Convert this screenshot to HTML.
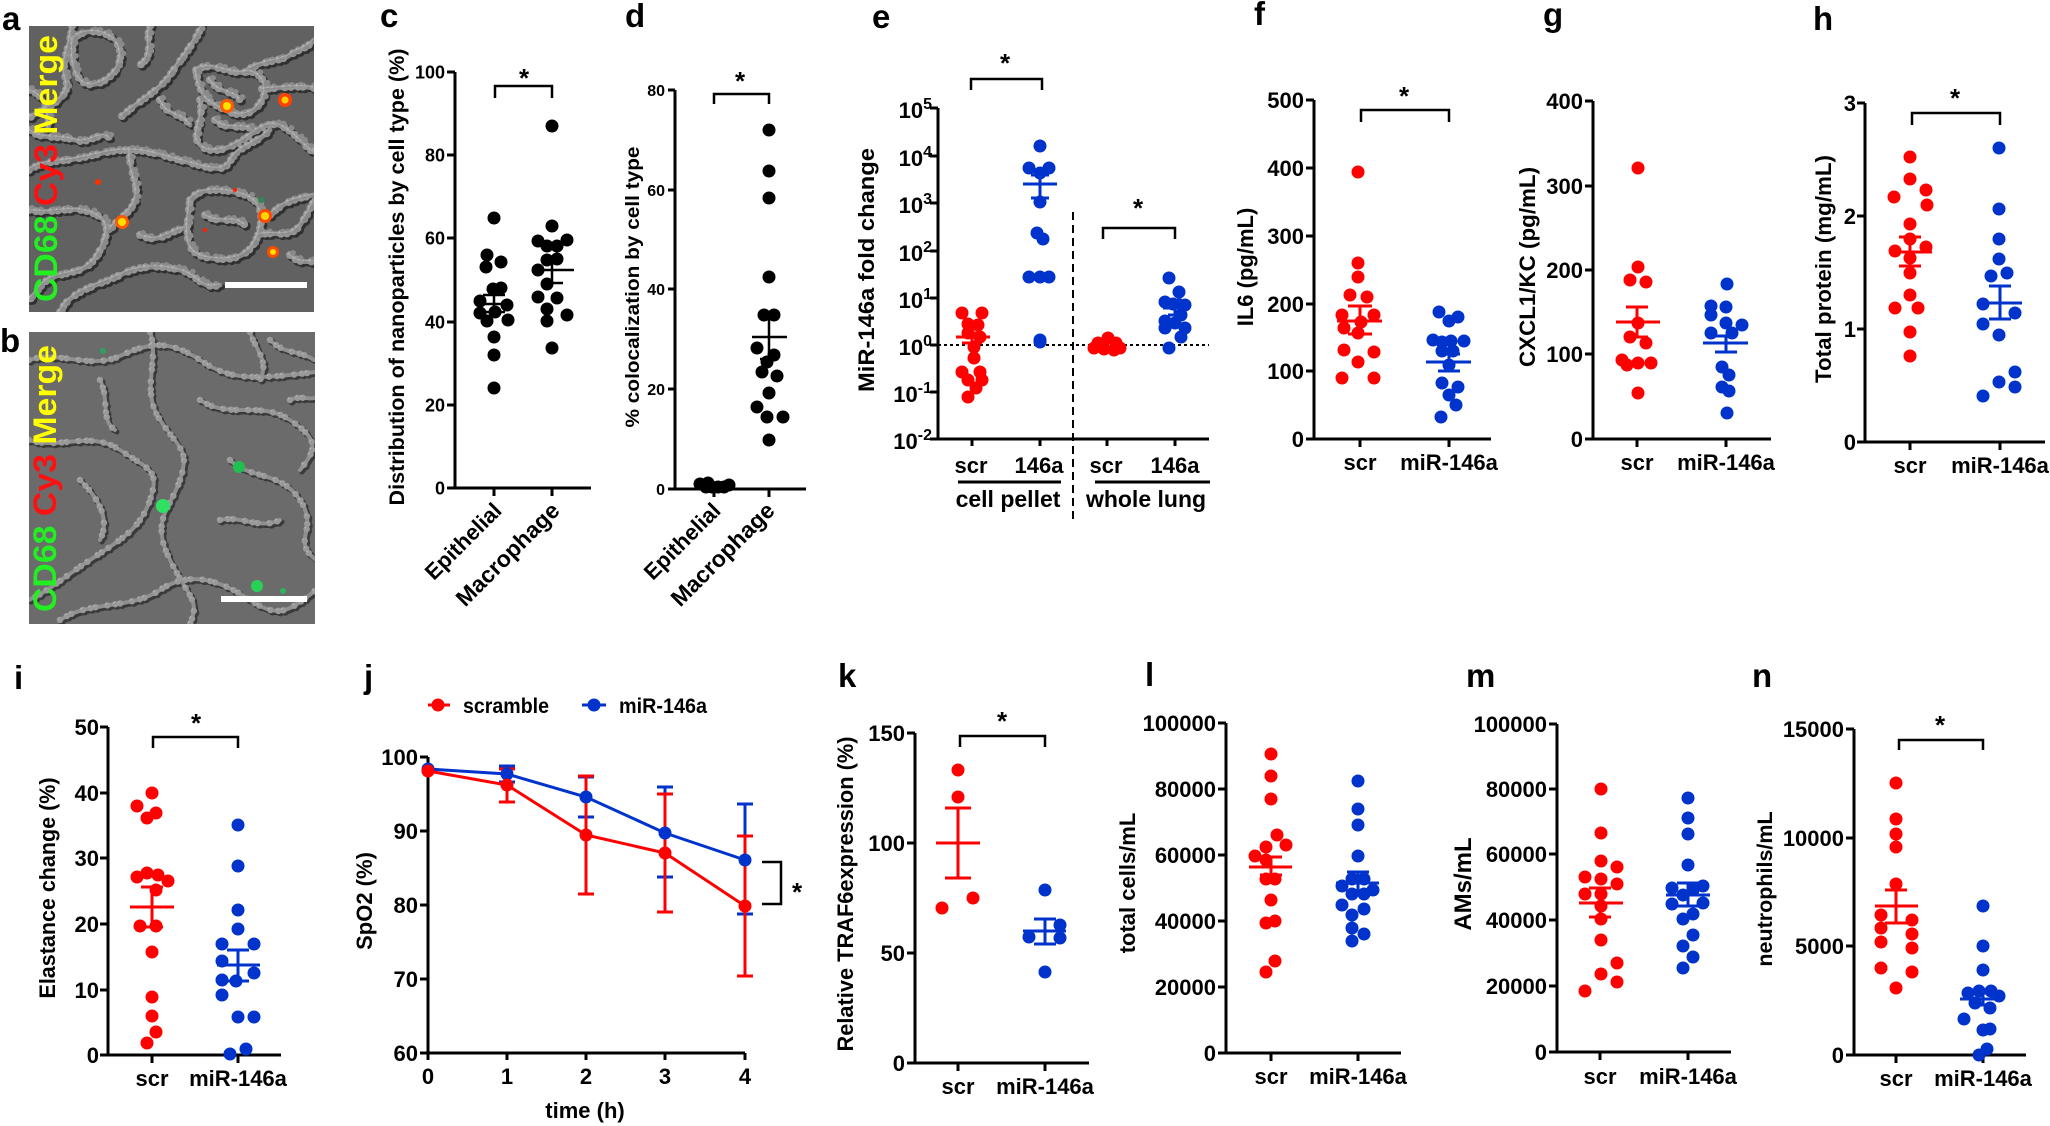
<!DOCTYPE html>
<html><head><meta charset="utf-8"><style>
html,body{margin:0;padding:0;background:#fff}
svg{display:block}
text{font-family:"Liberation Sans",Arial,sans-serif;font-weight:bold;fill:#000}
.ax{fill:none;stroke:#000;stroke-width:3}
.br{fill:none;stroke:#000;stroke-width:2.5}
.ek{fill:none;stroke:#000;stroke-width:2.5}
.er{fill:none;stroke:#ff0000;stroke-width:3}
.eb{fill:none;stroke:#0033cc;stroke-width:3}
.k circle{fill:#000}
.r circle{fill:#ff0000}
.b circle{fill:#0033cc}
</style></head><body>
<svg width="2050" height="1126" viewBox="0 0 2050 1126" xmlns="http://www.w3.org/2000/svg">
<rect width="2050" height="1126" fill="#fff"/>
<defs>
<clipPath id="ca"><rect x="29" y="26" width="285" height="286"/></clipPath>
<clipPath id="cb"><rect x="29" y="332" width="286" height="292"/></clipPath>
<path id="na" d="M73,40 C80,28 110,28 118,45 S112,80 96,84 S70,72 73,40 Z M72,26 C70,50 60,60 66,80 S40,110 29,118 M122,116 C140,100 160,90 170,75 S190,50 202,26 M29,90 C45,95 50,110 48,130 M150,26 C145,40 155,55 140,65 M196,70 C210,60 230,75 245,72 S270,85 262,100 S240,118 225,110 S200,100 196,70 Z M245,72 C260,60 280,62 290,55 S305,50 314,40 M262,89 C280,88 300,85 314,88 M200,100 C205,120 190,135 200,145 S230,150 250,135 S280,120 300,140 S314,150 314,150 M29,170 C45,160 60,162 80,158 S110,150 130,150 S170,158 202,166 S225,160 240,150 S260,140 270,130 M130,150 C128,170 140,185 135,200 S120,215 110,230 M190,200 C200,185 230,190 245,195 S265,215 258,235 S235,262 210,258 S185,240 190,200 Z M258,235 C275,230 290,240 300,225 S312,205 314,200 M270,215 C285,200 300,198 314,195 M29,210 C50,215 70,205 90,212 S110,230 100,250 S80,270 60,275 S40,290 29,300 M60,312 C70,290 100,285 120,275 S160,265 180,270 S200,290 220,285 M140,235 C160,245 170,230 185,228 M290,255 C300,265 310,260 314,262 M30,130 C40,140 60,135 75,140 S100,130 110,138 M160,100 C170,120 180,110 190,125 M210,80 C220,95 235,90 240,100 M205,215 C220,225 235,215 245,225 M215,120 C225,130 240,125 250,128"/>
<path id="nb" d="M29,360 C60,350 90,370 120,356 S170,340 200,360 S250,380 316,372 M150,332 C160,360 140,390 160,420 S190,450 180,480 S150,520 170,560 S200,600 190,624 M29,440 C60,450 90,430 120,450 S160,470 150,500 S120,540 90,560 S50,590 29,600 M200,400 C230,420 260,400 290,420 S316,450 300,470 M230,460 C250,480 280,470 300,500 S290,540 316,560 M60,620 C90,600 130,610 160,590 S220,580 250,600 S290,610 316,590 M80,480 C100,500 110,520 100,540 M250,332 C255,350 270,360 260,380 M270,340 C285,355 300,350 314,360 M220,520 C240,515 260,530 280,520 M100,380 C110,400 100,420 115,430 M290,400 C300,395 310,400 314,398"/>
</defs>

<!-- panel labels -->
<g font-size="33">
<text x="2" y="30">a</text>
<text x="0" y="352">b</text>
<text x="380" y="27">c</text>
<text x="625" y="27">d</text>
<text x="872" y="28">e</text>
<text x="1254" y="25">f</text>
<text x="1543" y="26">g</text>
<text x="1813" y="30">h</text>
<text x="14" y="689">i</text>
<text x="364" y="688">j</text>
<text x="838" y="687">k</text>
<text x="1145" y="686">l</text>
<text x="1466" y="687">m</text>
<text x="1752" y="687">n</text>
</g>

<!-- image a -->
<g clip-path="url(#ca)">
<rect x="29" y="26" width="285" height="286" fill="#616161"/>
<g fill="none" stroke-linecap="round" stroke-linejoin="round">
<use href="#na" transform="translate(2,2)" stroke="#303030" stroke-width="6"/>
<use href="#na" transform="translate(2,2)" stroke="#303030" stroke-width="9" stroke-dasharray="0 7 0 5 0 11 0 6"/>
<use href="#na" stroke="#888888" stroke-width="5"/>
<use href="#na" stroke="#959595" stroke-width="8" stroke-dasharray="0 7 0 5 0 11 0 6"/>
<use href="#na" transform="translate(3,-2)" stroke="#8a8a8a" stroke-width="6" stroke-dasharray="0 9 0 13 0 5"/>
<use href="#na" transform="translate(-1.5,-1.5)" stroke="#c4c4c4" stroke-width="2" stroke-dasharray="0 7 0 5 0 11 0 6" opacity="0.6"/>
<use href="#na" transform="translate(-1,-1)" stroke="#bdbdbd" stroke-width="1.2" opacity="0.5"/>
</g>
<g>
<circle cx="227" cy="106" r="7" fill="#ff5a00"/><circle cx="227" cy="106" r="4" fill="#ffe000"/>
<circle cx="285" cy="100" r="7" fill="#ff4000"/><circle cx="285" cy="100" r="3.5" fill="#ffd000"/>
<circle cx="122" cy="222" r="7" fill="#ff5a00"/><circle cx="122" cy="222" r="4" fill="#ffe000"/>
<circle cx="265" cy="216" r="7" fill="#ff4a00"/><circle cx="265" cy="216" r="4" fill="#ffd800"/>
<circle cx="273" cy="252" r="6" fill="#ff4a00"/><circle cx="273" cy="252" r="3" fill="#ffe000"/>
<circle cx="98" cy="182" r="3" fill="#ff3000"/>
<circle cx="235" cy="190" r="2" fill="#ff2000"/>
<circle cx="205" cy="230" r="2" fill="#ff2000"/>
<circle cx="261" cy="200" r="3" fill="#2a8a5a"/>
</g>
<rect x="225" y="282" width="82" height="6" fill="#fff"/>
</g>
<text transform="translate(57,302) rotate(-90)" font-size="32" textLength="267" lengthAdjust="spacingAndGlyphs"><tspan style="fill:#22ee22">CD68 </tspan><tspan style="fill:#ff1010">Cy3 </tspan><tspan style="fill:#ffff00">Merge</tspan></text>

<!-- image b -->
<g clip-path="url(#cb)">
<rect x="29" y="332" width="286" height="292" fill="#6b6b6b"/>
<g fill="none" stroke-linecap="round" stroke-linejoin="round">
<use href="#nb" transform="translate(2,2)" stroke="#3a3a3a" stroke-width="5"/>
<use href="#nb" transform="translate(2,2)" stroke="#3a3a3a" stroke-width="7" stroke-dasharray="0 8 0 5 0 12"/>
<use href="#nb" stroke="#8f8f8f" stroke-width="4"/>
<use href="#nb" stroke="#999999" stroke-width="6.5" stroke-dasharray="0 8 0 5 0 12"/>
<use href="#nb" transform="translate(-1.5,-1.5)" stroke="#c6c6c6" stroke-width="1.8" stroke-dasharray="0 8 0 5 0 12" opacity="0.6"/>
</g>
<circle cx="239" cy="467" r="6" fill="#20c050"/>
<circle cx="163" cy="506" r="7" fill="#30e060"/>
<circle cx="257" cy="586" r="6" fill="#28d058"/>
<circle cx="283" cy="591" r="3" fill="#30b060"/>
<circle cx="103" cy="351" r="3" fill="#30a060"/>
<rect x="221" y="596" width="86" height="6" fill="#fff"/>
</g>
<text transform="translate(56,612) rotate(-90)" font-size="32" textLength="267" lengthAdjust="spacingAndGlyphs"><tspan style="fill:#22ee22">CD68 </tspan><tspan style="fill:#ff1010">Cy3 </tspan><tspan style="fill:#ffff00">Merge</tspan></text>

<!-- ================= panel c ================= -->
<path class="ax" d="M455,72V488H591 M447,72H455 M447,155H455 M447,238H455 M447,322H455 M447,405H455 M447,488H455 M494,488V496 M552,488V496"/>
<g font-size="18" text-anchor="end">
<text x="445" y="78.5">100</text><text x="445" y="161.5">80</text><text x="445" y="244.5">60</text><text x="445" y="328.5">40</text><text x="445" y="411.5">20</text><text x="445" y="494.5">0</text>
</g>
<text transform="translate(404,277) rotate(-90)" font-size="21" text-anchor="middle" textLength="457" lengthAdjust="spacingAndGlyphs">Distribution of nanoparticles by cell type (%)</text>
<text transform="translate(503,512) rotate(-45)" font-size="22" text-anchor="end">Epithelial</text>
<text transform="translate(561,512) rotate(-45)" font-size="23" text-anchor="end">Macrophage</text>
<path class="br" d="M495,98V86H552V98"/>
<text x="524" y="87" font-size="26" text-anchor="middle">*</text>
<g class="k">
<circle cx="494" cy="218" r="6.5"/><circle cx="487" cy="255" r="6.5"/><circle cx="501" cy="262" r="6.5"/><circle cx="486" cy="267" r="6.5"/><circle cx="493" cy="289" r="6.5"/><circle cx="501" cy="288" r="6.5"/><circle cx="480" cy="301" r="6.5"/><circle cx="507" cy="305" r="6.5"/><circle cx="495" cy="312" r="6.5"/><circle cx="480" cy="313" r="6.5"/><circle cx="508" cy="320" r="6.5"/><circle cx="487" cy="321" r="6.5"/><circle cx="494" cy="337" r="6.5"/><circle cx="494" cy="355" r="6.5"/><circle cx="494" cy="388" r="6.5"/>
<circle cx="552" cy="126" r="6.5"/><circle cx="552" cy="226" r="6.5"/><circle cx="538" cy="241" r="6.5"/><circle cx="567" cy="240" r="6.5"/><circle cx="547" cy="246" r="6.5"/><circle cx="557" cy="246" r="6.5"/><circle cx="547" cy="260" r="6.5"/><circle cx="557" cy="259" r="6.5"/><circle cx="538" cy="270" r="6.5"/><circle cx="547" cy="284" r="6.5"/><circle cx="538" cy="297" r="6.5"/><circle cx="557" cy="298" r="6.5"/><circle cx="547" cy="309" r="6.5"/><circle cx="567" cy="315" r="6.5"/><circle cx="547" cy="321" r="6.5"/><circle cx="552" cy="348" r="6.5"/>
</g>
<path class="ek" d="M475,304H513 M494,295V312 M483,295H505 M483,312H505"/>
<path class="ek" d="M536,270H574 M552,259V283 M543,259H563 M543,283H563"/>

<!-- ================= panel d ================= -->
<path class="ax" d="M675,90V489H806 M668,90H675 M668,190H675 M668,289H675 M668,389H675 M668,489H675 M714,489V497 M769,489V497"/>
<g font-size="16" text-anchor="end">
<text x="665" y="96">80</text><text x="665" y="196">60</text><text x="665" y="295">40</text><text x="665" y="395">20</text><text x="665" y="495">0</text>
</g>
<text transform="translate(639,287) rotate(-90)" font-size="19" text-anchor="middle" textLength="281" lengthAdjust="spacingAndGlyphs">% colocalization by cell type</text>
<text transform="translate(722,512) rotate(-45)" font-size="22" text-anchor="end">Epithelial</text>
<text transform="translate(776,512) rotate(-45)" font-size="23" text-anchor="end">Macrophage</text>
<path class="br" d="M714,104V94H769V104"/>
<text x="740" y="90" font-size="26" text-anchor="middle">*</text>
<g class="k">
<circle cx="700" cy="484" r="6.5"/><circle cx="706" cy="487" r="6.5"/><circle cx="712" cy="487" r="6.5"/><circle cx="718" cy="487" r="6.5"/><circle cx="724" cy="487" r="6.5"/><circle cx="729" cy="485" r="6.5"/><circle cx="708" cy="483" r="6.5"/>
<circle cx="769" cy="130" r="6.5"/><circle cx="769" cy="171" r="6.5"/><circle cx="769" cy="198" r="6.5"/><circle cx="769" cy="277" r="6.5"/><circle cx="764" cy="315" r="6.5"/><circle cx="774" cy="315" r="6.5"/><circle cx="757" cy="348" r="6.5"/><circle cx="774" cy="355" r="6.5"/><circle cx="767" cy="362" r="6.5"/><circle cx="762" cy="372" r="6.5"/><circle cx="777" cy="376" r="6.5"/><circle cx="769" cy="393" r="6.5"/><circle cx="757" cy="407" r="6.5"/><circle cx="767" cy="417" r="6.5"/><circle cx="783" cy="417" r="6.5"/><circle cx="769" cy="440" r="6.5"/>
</g>
<path class="ek" d="M752,337H787 M769,318V359 M760,318H778 M760,359H778"/>

<!-- ================= panel e ================= -->
<path d="M938,345H1209" stroke="#000" stroke-width="2" stroke-dasharray="3,3" fill="none"/>
<path d="M1073,212V520" stroke="#000" stroke-width="2" stroke-dasharray="8,5" fill="none"/>
<path class="ax" d="M938,108V439H1209 M930,108H938 M930,156H938 M930,203H938 M930,251H938 M930,298H938 M930,345H938 M930,392H938 M930,439H938 M972,439V446 M1040,439V446 M1107,439V446 M1175,439V446"/>
<g font-size="22" text-anchor="end">
<text x="932" y="118">10<tspan dy="-9" font-size="16">5</tspan></text>
<text x="932" y="166">10<tspan dy="-9" font-size="16">4</tspan></text>
<text x="932" y="213">10<tspan dy="-9" font-size="16">3</tspan></text>
<text x="932" y="261">10<tspan dy="-9" font-size="16">2</tspan></text>
<text x="932" y="308">10<tspan dy="-9" font-size="16">1</tspan></text>
<text x="932" y="355">10<tspan dy="-9" font-size="16">0</tspan></text>
<text x="932" y="402">10<tspan dy="-9" font-size="16">-1</tspan></text>
<text x="932" y="449">10<tspan dy="-9" font-size="16">-2</tspan></text>
</g>
<text transform="translate(874,270) rotate(-90)" font-size="22" text-anchor="middle" textLength="244" lengthAdjust="spacingAndGlyphs">MiR-146a fold change</text>
<g font-size="22" text-anchor="middle">
<text x="971" y="473">scr</text><text x="1039" y="473">146a</text><text x="1106" y="473">scr</text><text x="1175" y="473">146a</text>
<text x="1008" y="507" font-size="23">cell pellet</text><text x="1146" y="507" font-size="23">whole lung</text>
</g>
<path d="M958,482H1061 M1095,482H1210" stroke="#000" stroke-width="3"/>
<path class="br" d="M971,90V79H1042V90"/>
<text x="1005" y="72" font-size="26" text-anchor="middle">*</text>
<path class="br" d="M1103,239V228H1175V239"/>
<text x="1138" y="217" font-size="26" text-anchor="middle">*</text>
<g class="r">
<circle cx="962" cy="313" r="6.5"/><circle cx="982" cy="313" r="6.5"/><circle cx="968" cy="324" r="6.5"/><circle cx="978" cy="325" r="6.5"/><circle cx="968" cy="333" r="6.5"/><circle cx="980" cy="337" r="6.5"/><circle cx="974" cy="347" r="6.5"/><circle cx="974" cy="358" r="6.5"/><circle cx="962" cy="372" r="6.5"/><circle cx="980" cy="372" r="6.5"/><circle cx="968" cy="380" r="6.5"/><circle cx="982" cy="380" r="6.5"/><circle cx="976" cy="388" r="6.5"/><circle cx="968" cy="397" r="6.5"/>
<circle cx="1098" cy="343" r="6.5"/><circle cx="1108" cy="338" r="6.5"/><circle cx="1116" cy="343" r="6.5"/><circle cx="1104" cy="349" r="6.5"/><circle cx="1114" cy="350" r="6.5"/><circle cx="1094" cy="348" r="6.5"/><circle cx="1120" cy="348" r="6.5"/>
</g>
<g class="b">
<circle cx="1040" cy="146" r="6.5"/><circle cx="1029" cy="168" r="6.5"/><circle cx="1049" cy="168" r="6.5"/><circle cx="1040" cy="173" r="6.5"/><circle cx="1040" cy="202" r="6.5"/><circle cx="1037" cy="233" r="6.5"/><circle cx="1043" cy="239" r="6.5"/><circle cx="1029" cy="277" r="6.5"/><circle cx="1040" cy="277" r="6.5"/><circle cx="1049" cy="277" r="6.5"/><circle cx="1040" cy="340" r="6.5"/><circle cx="1040" cy="342" r="6.5"/>
<circle cx="1169" cy="278" r="6.5"/><circle cx="1179" cy="292" r="6.5"/><circle cx="1165" cy="302" r="6.5"/><circle cx="1173" cy="304" r="6.5"/><circle cx="1185" cy="305" r="6.5"/><circle cx="1165" cy="321" r="6.5"/><circle cx="1181" cy="315" r="6.5"/><circle cx="1175" cy="323" r="6.5"/><circle cx="1185" cy="328" r="6.5"/><circle cx="1165" cy="328" r="6.5"/><circle cx="1181" cy="337" r="6.5"/><circle cx="1169" cy="348" r="6.5"/>
</g>
<path class="er" d="M956,337H990 M972,333V343 M962,333H982 M962,343H982"/>
<path class="eb" d="M1023,184H1057 M1040,175V198 M1031,175H1049 M1031,198H1049"/>
<path class="eb" d="M1163,308H1189 M1175,300V315 M1168,300H1182 M1168,315H1182"/>

<!-- ================= panel f ================= -->
<path class="ax" d="M1314,100V439H1491 M1306,100H1314 M1306,168H1314 M1306,236H1314 M1306,304H1314 M1306,371H1314 M1306,439H1314 M1360,439V447 M1449,439V447"/>
<g font-size="22" text-anchor="end">
<text x="1304" y="108">500</text><text x="1304" y="176">400</text><text x="1304" y="244">300</text><text x="1304" y="312">200</text><text x="1304" y="379">100</text><text x="1304" y="447">0</text>
</g>
<text transform="translate(1253,267) rotate(-90)" font-size="22" text-anchor="middle">IL6 (pg/mL)</text>
<g font-size="22" text-anchor="middle"><text x="1360" y="470">scr</text><text x="1449" y="470">miR-146a</text></g>
<path class="br" d="M1361,122V110H1449V122"/>
<text x="1404" y="105" font-size="26" text-anchor="middle">*</text>
<g class="r">
<circle cx="1358" cy="172" r="6.5"/><circle cx="1358" cy="263" r="6.5"/><circle cx="1358" cy="277" r="6.5"/><circle cx="1350" cy="295" r="6.5"/><circle cx="1367" cy="297" r="6.5"/><circle cx="1342" cy="315" r="6.5"/><circle cx="1374" cy="315" r="6.5"/><circle cx="1361" cy="322" r="6.5"/><circle cx="1344" cy="328" r="6.5"/><circle cx="1358" cy="333" r="6.5"/><circle cx="1344" cy="350" r="6.5"/><circle cx="1374" cy="352" r="6.5"/><circle cx="1358" cy="362" r="6.5"/><circle cx="1342" cy="378" r="6.5"/><circle cx="1374" cy="378" r="6.5"/>
</g>
<g class="b">
<circle cx="1439" cy="312" r="6.5"/><circle cx="1449" cy="321" r="6.5"/><circle cx="1458" cy="317" r="6.5"/><circle cx="1433" cy="340" r="6.5"/><circle cx="1442" cy="342" r="6.5"/><circle cx="1451" cy="341" r="6.5"/><circle cx="1464" cy="341" r="6.5"/><circle cx="1442" cy="351" r="6.5"/><circle cx="1453" cy="351" r="6.5"/><circle cx="1449" cy="365" r="6.5"/><circle cx="1442" cy="383" r="6.5"/><circle cx="1458" cy="387" r="6.5"/><circle cx="1449" cy="395" r="6.5"/><circle cx="1456" cy="405" r="6.5"/><circle cx="1441" cy="417" r="6.5"/>
</g>
<path class="er" d="M1337,321H1382 M1360,306V334 M1348,306H1372 M1348,334H1372"/>
<path class="eb" d="M1426,362H1471 M1449,354V371 M1438,354H1460 M1438,371H1460"/>

<!-- ================= panel g ================= -->
<path class="ax" d="M1593,101V439H1771 M1585,101H1593 M1585,186H1593 M1585,270H1593 M1585,354H1593 M1585,439H1593 M1637,439V447 M1726,439V447"/>
<g font-size="22" text-anchor="end">
<text x="1583" y="109">400</text><text x="1583" y="194">300</text><text x="1583" y="278">200</text><text x="1583" y="362">100</text><text x="1583" y="447">0</text>
</g>
<text transform="translate(1535,267) rotate(-90)" font-size="22" text-anchor="middle" textLength="200" lengthAdjust="spacingAndGlyphs">CXCL1/KC (pg/mL)</text>
<g font-size="22" text-anchor="middle"><text x="1637" y="470">scr</text><text x="1726" y="470">miR-146a</text></g>
<g class="r">
<circle cx="1638" cy="168" r="6.5"/><circle cx="1638" cy="267" r="6.5"/><circle cx="1630" cy="280" r="6.5"/><circle cx="1646" cy="282" r="6.5"/><circle cx="1638" cy="323" r="6.5"/><circle cx="1630" cy="337" r="6.5"/><circle cx="1646" cy="343" r="6.5"/><circle cx="1622" cy="360" r="6.5"/><circle cx="1638" cy="363" r="6.5"/><circle cx="1651" cy="363" r="6.5"/><circle cx="1627" cy="365" r="6.5"/><circle cx="1638" cy="393" r="6.5"/>
</g>
<g class="b">
<circle cx="1727" cy="284" r="6.5"/><circle cx="1711" cy="306" r="6.5"/><circle cx="1726" cy="307" r="6.5"/><circle cx="1711" cy="315" r="6.5"/><circle cx="1742" cy="325" r="6.5"/><circle cx="1726" cy="323" r="6.5"/><circle cx="1711" cy="333" r="6.5"/><circle cx="1732" cy="333" r="6.5"/><circle cx="1722" cy="367" r="6.5"/><circle cx="1729" cy="375" r="6.5"/><circle cx="1722" cy="387" r="6.5"/><circle cx="1729" cy="391" r="6.5"/><circle cx="1727" cy="413" r="6.5"/>
</g>
<path class="er" d="M1616,322H1660 M1637,307V337 M1626,307H1648 M1626,337H1648"/>
<path class="eb" d="M1703,343H1748 M1726,336V352 M1715,336H1737 M1715,352H1737"/>

<!-- ================= panel h ================= -->
<path class="ax" d="M1865,103V442H2045 M1857,103H1865 M1857,216H1865 M1857,329H1865 M1857,442H1865 M1910,442V450 M2000,442V450"/>
<g font-size="22" text-anchor="end">
<text x="1856" y="111">3</text><text x="1856" y="224">2</text><text x="1856" y="337">1</text><text x="1856" y="450">0</text>
</g>
<text transform="translate(1831,269) rotate(-90)" font-size="22" text-anchor="middle" textLength="228" lengthAdjust="spacingAndGlyphs">Total protein (mg/mL)</text>
<g font-size="22" text-anchor="middle"><text x="1910" y="473">scr</text><text x="2000" y="473">miR-146a</text></g>
<path class="br" d="M1912,125V113H2000V125"/>
<text x="1955" y="107" font-size="26" text-anchor="middle">*</text>
<g class="r">
<circle cx="1910" cy="157" r="6.5"/><circle cx="1910" cy="179" r="6.5"/><circle cx="1894" cy="197" r="6.5"/><circle cx="1926" cy="190" r="6.5"/><circle cx="1927" cy="205" r="6.5"/><circle cx="1910" cy="224" r="6.5"/><circle cx="1910" cy="239" r="6.5"/><circle cx="1895" cy="251" r="6.5"/><circle cx="1926" cy="247" r="6.5"/><circle cx="1910" cy="258" r="6.5"/><circle cx="1910" cy="273" r="6.5"/><circle cx="1910" cy="295" r="6.5"/><circle cx="1895" cy="308" r="6.5"/><circle cx="1918" cy="308" r="6.5"/><circle cx="1910" cy="332" r="6.5"/><circle cx="1910" cy="356" r="6.5"/>
</g>
<g class="b">
<circle cx="1999" cy="148" r="6.5"/><circle cx="1999" cy="209" r="6.5"/><circle cx="1999" cy="239" r="6.5"/><circle cx="1999" cy="259" r="6.5"/><circle cx="1991" cy="276" r="6.5"/><circle cx="2007" cy="273" r="6.5"/><circle cx="1983" cy="304" r="6.5"/><circle cx="2015" cy="313" r="6.5"/><circle cx="1983" cy="324" r="6.5"/><circle cx="1999" cy="335" r="6.5"/><circle cx="2015" cy="372" r="6.5"/><circle cx="1999" cy="382" r="6.5"/><circle cx="2015" cy="387" r="6.5"/><circle cx="1983" cy="396" r="6.5"/>
</g>
<path class="er" d="M1890,252H1932 M1910,237V266 M1899,237H1921 M1899,266H1921"/>
<path class="eb" d="M1977,303H2022 M2000,286V319 M1989,286H2011 M1989,319H2011"/>

<!-- ================= panel i ================= -->
<path class="ax" d="M108,727V1055H281 M100,727H108 M100,793H108 M100,858H108 M100,924H108 M100,990H108 M100,1055H108 M152,1055V1063 M238,1055V1063"/>
<g font-size="22" text-anchor="end">
<text x="99" y="735">50</text><text x="99" y="801">40</text><text x="99" y="866">30</text><text x="99" y="932">20</text><text x="99" y="998">10</text><text x="99" y="1063">0</text>
</g>
<text transform="translate(55,888) rotate(-90)" font-size="22" text-anchor="middle" textLength="221" lengthAdjust="spacingAndGlyphs">Elastance change (%)</text>
<g font-size="22" text-anchor="middle"><text x="152" y="1086">scr</text><text x="238" y="1086">miR-146a</text></g>
<path class="br" d="M153,748V737H238V748"/>
<text x="196" y="732" font-size="26" text-anchor="middle">*</text>
<g class="r">
<circle cx="152" cy="793" r="6.5"/><circle cx="137" cy="806" r="6.5"/><circle cx="147" cy="818" r="6.5"/><circle cx="156" cy="813" r="6.5"/><circle cx="137" cy="877" r="6.5"/><circle cx="147" cy="873" r="6.5"/><circle cx="158" cy="875" r="6.5"/><circle cx="168" cy="881" r="6.5"/><circle cx="156" cy="890" r="6.5"/><circle cx="140" cy="926" r="6.5"/><circle cx="156" cy="926" r="6.5"/><circle cx="152" cy="952" r="6.5"/><circle cx="152" cy="997" r="6.5"/><circle cx="152" cy="1016" r="6.5"/><circle cx="156" cy="1032" r="6.5"/><circle cx="147" cy="1043" r="6.5"/>
</g>
<g class="b">
<circle cx="238" cy="825" r="6.5"/><circle cx="238" cy="866" r="6.5"/><circle cx="238" cy="910" r="6.5"/><circle cx="238" cy="929" r="6.5"/><circle cx="222" cy="944" r="6.5"/><circle cx="254" cy="944" r="6.5"/><circle cx="222" cy="961" r="6.5"/><circle cx="254" cy="973" r="6.5"/><circle cx="222" cy="980" r="6.5"/><circle cx="236" cy="981" r="6.5"/><circle cx="222" cy="995" r="6.5"/><circle cx="238" cy="1017" r="6.5"/><circle cx="254" cy="1017" r="6.5"/><circle cx="246" cy="1049" r="6.5"/><circle cx="230" cy="1054" r="6.5"/>
</g>
<path class="er" d="M130,907H174 M152,887V927 M141,887H163 M141,927H163"/>
<path class="eb" d="M217,965H260 M238,950V981 M227,950H249 M227,981H249"/>

<!-- ================= panel j ================= -->
<path class="ax" d="M428,757V1053H745 M420,757H428 M420,831H428 M420,905H428 M420,979H428 M420,1053H428 M428,1053V1060 M507,1053V1060 M586,1053V1060 M665,1053V1060 M745,1053V1060"/>
<g font-size="22" text-anchor="end">
<text x="418" y="765">100</text><text x="418" y="839">90</text><text x="418" y="913">80</text><text x="418" y="987">70</text><text x="418" y="1061">60</text>
</g>
<g font-size="22" text-anchor="middle">
<text x="428" y="1084">0</text><text x="507" y="1084">1</text><text x="586" y="1084">2</text><text x="665" y="1084">3</text><text x="745" y="1084">4</text>
<text x="585" y="1118">time (h)</text>
</g>
<text transform="translate(372,901) rotate(-90)" font-size="22" text-anchor="middle">SpO2 (%)</text>
<path d="M428,705H450" stroke="#ff0000" stroke-width="3"/><circle cx="438" cy="705" r="6.5" fill="#ff0000"/>
<text x="463" y="713" font-size="21" textLength="86" lengthAdjust="spacingAndGlyphs">scramble</text>
<path d="M582,705H606" stroke="#0033cc" stroke-width="3"/><circle cx="594" cy="705" r="6.5" fill="#0033cc"/>
<text x="619" y="713" font-size="21" textLength="88" lengthAdjust="spacingAndGlyphs">miR-146a</text>
<polyline points="428,769 507,774 586,797 665,833 745,860" fill="none" stroke="#0033cc" stroke-width="3"/>
<path class="eb" d="M507,766V782 M499,766H515 M499,782H515 M586,777V817 M578,777H594 M578,817H594 M665,787V877 M657,787H673 M657,877H673 M745,804V914 M737,804H753 M737,914H753"/>
<polyline points="428,771 507,785 586,835 665,853 745,906" fill="none" stroke="#ff0000" stroke-width="3"/>
<path class="er" d="M507,769V802 M499,769H515 M499,802H515 M586,776V894 M578,776H594 M578,894H594 M665,794V912 M657,794H673 M657,912H673 M745,836V976 M737,836H753 M737,976H753"/>
<g class="b"><circle cx="428" cy="769" r="6.5"/><circle cx="507" cy="774" r="6.5"/><circle cx="586" cy="797" r="6.5"/><circle cx="665" cy="833" r="6.5"/><circle cx="745" cy="860" r="6.5"/></g>
<g class="r"><circle cx="428" cy="771" r="6.5"/><circle cx="507" cy="785" r="6.5"/><circle cx="586" cy="835" r="6.5"/><circle cx="665" cy="853" r="6.5"/><circle cx="745" cy="906" r="6.5"/></g>
<path class="br" d="M762,862H781V904H762"/>
<text x="797" y="901" font-size="26" text-anchor="middle">*</text>

<!-- ================= panel k ================= -->
<path class="ax" d="M915,733V1063H1089 M907,733H915 M907,843H915 M907,953H915 M907,1063H915 M958,1063V1071 M1045,1063V1071"/>
<g font-size="22" text-anchor="end">
<text x="905" y="741">150</text><text x="905" y="851">100</text><text x="905" y="961">50</text><text x="905" y="1071">0</text>
</g>
<text transform="translate(853,894) rotate(-90)" font-size="22" text-anchor="middle" textLength="315" lengthAdjust="spacingAndGlyphs">Relative TRAF6expression (%)</text>
<g font-size="22" text-anchor="middle"><text x="958" y="1094">scr</text><text x="1045" y="1094">miR-146a</text></g>
<path class="br" d="M960,747V736H1045V747"/>
<text x="1002" y="730" font-size="26" text-anchor="middle">*</text>
<g class="r"><circle cx="958" cy="770" r="6.5"/><circle cx="958" cy="797" r="6.5"/><circle cx="942" cy="908" r="6.5"/><circle cx="973" cy="898" r="6.5"/></g>
<g class="b"><circle cx="1045" cy="890" r="6.5"/><circle cx="1029" cy="937" r="6.5"/><circle cx="1060" cy="925" r="6.5"/><circle cx="1060" cy="938" r="6.5"/><circle cx="1045" cy="972" r="6.5"/></g>
<path class="er" d="M936,843H980 M958,808V878 M945,808H971 M945,878H971"/>
<path class="eb" d="M1023,931H1066 M1045,919V944 M1034,919H1056 M1034,944H1056"/>

<!-- ================= panel l ================= -->
<path class="ax" d="M1226,723V1053H1401 M1218,723H1226 M1218,789H1226 M1218,855H1226 M1218,921H1226 M1218,987H1226 M1218,1053H1226 M1271,1053V1061 M1358,1053V1061"/>
<g font-size="22" text-anchor="end">
<text x="1216" y="731">100000</text><text x="1216" y="797">80000</text><text x="1216" y="863">60000</text><text x="1216" y="929">40000</text><text x="1216" y="995">20000</text><text x="1216" y="1061">0</text>
</g>
<text transform="translate(1135,883) rotate(-90)" font-size="22" text-anchor="middle">total cells/mL</text>
<g font-size="22" text-anchor="middle"><text x="1271" y="1084">scr</text><text x="1358" y="1084">miR-146a</text></g>
<g class="r">
<circle cx="1271" cy="754" r="6.5"/><circle cx="1271" cy="776" r="6.5"/><circle cx="1271" cy="799" r="6.5"/><circle cx="1277" cy="835" r="6.5"/><circle cx="1266" cy="847" r="6.5"/><circle cx="1286" cy="845" r="6.5"/><circle cx="1255" cy="856" r="6.5"/><circle cx="1266" cy="860" r="6.5"/><circle cx="1266" cy="879" r="6.5"/><circle cx="1275" cy="879" r="6.5"/><circle cx="1271" cy="900" r="6.5"/><circle cx="1266" cy="923" r="6.5"/><circle cx="1275" cy="921" r="6.5"/><circle cx="1275" cy="961" r="6.5"/><circle cx="1266" cy="972" r="6.5"/>
</g>
<g class="b">
<circle cx="1358" cy="781" r="6.5"/><circle cx="1358" cy="809" r="6.5"/><circle cx="1358" cy="825" r="6.5"/><circle cx="1358" cy="856" r="6.5"/><circle cx="1352" cy="879" r="6.5"/><circle cx="1364" cy="879" r="6.5"/><circle cx="1342" cy="886" r="6.5"/><circle cx="1373" cy="890" r="6.5"/><circle cx="1352" cy="894" r="6.5"/><circle cx="1364" cy="894" r="6.5"/><circle cx="1342" cy="905" r="6.5"/><circle cx="1364" cy="909" r="6.5"/><circle cx="1352" cy="915" r="6.5"/><circle cx="1352" cy="928" r="6.5"/><circle cx="1364" cy="934" r="6.5"/><circle cx="1352" cy="941" r="6.5"/>
</g>
<path class="er" d="M1249,867H1292 M1271,857V875 M1260,857H1282 M1260,875H1282"/>
<path class="eb" d="M1336,883H1379 M1358,872V892 M1347,872H1369 M1347,892H1369"/>

<!-- ================= panel m ================= -->
<path class="ax" d="M1557,724V1052H1731 M1549,724H1557 M1549,789H1557 M1549,854H1557 M1549,920H1557 M1549,986H1557 M1549,1052H1557 M1600,1052V1060 M1688,1052V1060"/>
<g font-size="22" text-anchor="end">
<text x="1547" y="732">100000</text><text x="1547" y="797">80000</text><text x="1547" y="862">60000</text><text x="1547" y="928">40000</text><text x="1547" y="994">20000</text><text x="1547" y="1060">0</text>
</g>
<text transform="translate(1471,884) rotate(-90)" font-size="24" text-anchor="middle">AMs/mL</text>
<g font-size="22" text-anchor="middle"><text x="1600" y="1084">scr</text><text x="1688" y="1084">miR-146a</text></g>
<g class="r">
<circle cx="1601" cy="789" r="6.5"/><circle cx="1601" cy="833" r="6.5"/><circle cx="1601" cy="861" r="6.5"/><circle cx="1585" cy="877" r="6.5"/><circle cx="1617" cy="867" r="6.5"/><circle cx="1601" cy="879" r="6.5"/><circle cx="1585" cy="894" r="6.5"/><circle cx="1617" cy="884" r="6.5"/><circle cx="1601" cy="894" r="6.5"/><circle cx="1601" cy="906" r="6.5"/><circle cx="1601" cy="919" r="6.5"/><circle cx="1601" cy="940" r="6.5"/><circle cx="1617" cy="963" r="6.5"/><circle cx="1601" cy="974" r="6.5"/><circle cx="1617" cy="982" r="6.5"/><circle cx="1585" cy="991" r="6.5"/>
</g>
<g class="b">
<circle cx="1688" cy="798" r="6.5"/><circle cx="1688" cy="818" r="6.5"/><circle cx="1688" cy="834" r="6.5"/><circle cx="1688" cy="865" r="6.5"/><circle cx="1672" cy="888" r="6.5"/><circle cx="1703" cy="886" r="6.5"/><circle cx="1683" cy="895" r="6.5"/><circle cx="1693" cy="890" r="6.5"/><circle cx="1672" cy="904" r="6.5"/><circle cx="1703" cy="903" r="6.5"/><circle cx="1683" cy="919" r="6.5"/><circle cx="1693" cy="914" r="6.5"/><circle cx="1693" cy="935" r="6.5"/><circle cx="1683" cy="946" r="6.5"/><circle cx="1693" cy="957" r="6.5"/><circle cx="1683" cy="968" r="6.5"/>
</g>
<path class="er" d="M1579,903H1623 M1600,888V917 M1589,888H1611 M1589,917H1611"/>
<path class="eb" d="M1666,895H1710 M1688,883V906 M1677,883H1699 M1677,906H1699"/>

<!-- ================= panel n ================= -->
<path class="ax" d="M1854,729V1055H2026 M1846,729H1854 M1846,838H1854 M1846,946H1854 M1846,1055H1854 M1896,1055V1063 M1983,1055V1063"/>
<g font-size="22" text-anchor="end">
<text x="1844" y="737">15000</text><text x="1844" y="846">10000</text><text x="1844" y="954">5000</text><text x="1844" y="1063">0</text>
</g>
<text transform="translate(1772,889) rotate(-90)" font-size="21.5" text-anchor="middle">neutrophils/mL</text>
<g font-size="22" text-anchor="middle"><text x="1896" y="1086">scr</text><text x="1983" y="1086">miR-146a</text></g>
<path class="br" d="M1899,750V740H1983V750"/>
<text x="1940" y="734" font-size="26" text-anchor="middle">*</text>
<g class="r">
<circle cx="1896" cy="783" r="6.5"/><circle cx="1896" cy="819" r="6.5"/><circle cx="1896" cy="834" r="6.5"/><circle cx="1896" cy="847" r="6.5"/><circle cx="1896" cy="884" r="6.5"/><circle cx="1881" cy="915" r="6.5"/><circle cx="1912" cy="920" r="6.5"/><circle cx="1881" cy="928" r="6.5"/><circle cx="1912" cy="934" r="6.5"/><circle cx="1881" cy="942" r="6.5"/><circle cx="1912" cy="948" r="6.5"/><circle cx="1881" cy="968" r="6.5"/><circle cx="1912" cy="972" r="6.5"/><circle cx="1896" cy="988" r="6.5"/>
</g>
<g class="b">
<circle cx="1983" cy="906" r="6.5"/><circle cx="1983" cy="946" r="6.5"/><circle cx="1983" cy="970" r="6.5"/><circle cx="1968" cy="993" r="6.5"/><circle cx="1979" cy="991" r="6.5"/><circle cx="1991" cy="991" r="6.5"/><circle cx="1999" cy="996" r="6.5"/><circle cx="1975" cy="1003" r="6.5"/><circle cx="1990" cy="1008" r="6.5"/><circle cx="1964" cy="1019" r="6.5"/><circle cx="1983" cy="1030" r="6.5"/><circle cx="1990" cy="1029" r="6.5"/><circle cx="1987" cy="1049" r="6.5"/><circle cx="1979" cy="1055" r="6.5"/>
</g>
<path class="er" d="M1875,906H1918 M1896,890V923 M1885,890H1907 M1885,923H1907"/>
<path class="eb" d="M1960,999H1995 M1983,993V1005 M1972,993H1994 M1972,1005H1994"/>
</svg>
</body></html>
